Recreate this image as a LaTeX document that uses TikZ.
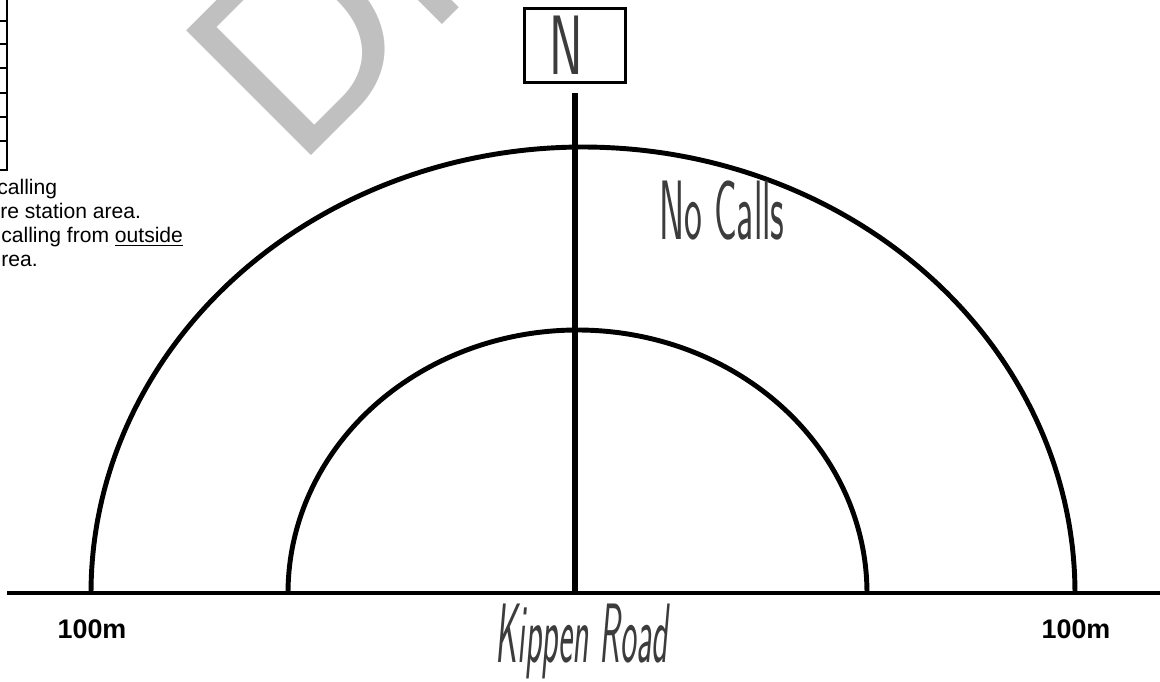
\documentclass[tikz,border=0pt]{standalone}
\usepackage{fontspec}
\setmainfont{Liberation Sans}
\definecolor{wmgray}{RGB}{192,192,192}
\definecolor{inkgray}{RGB}{60,60,60}
\usetikzlibrary{positioning}

\begin{document}
\begin{tikzpicture}[x=0.02cm,y=-0.02cm,
  heavy/.style={line width=2.8pt},
  note/.style={anchor=base west,inner sep=0,font=\fontsize{12}{13}\selectfont},
  dist/.style={anchor=base,inner sep=0,font=\bfseries\fontsize{15.3}{16}\selectfont},
  hand/.style={anchor=base east,inner sep=0,text=inkgray,font=\sffamily\fontsize{48}{48}\selectfont}]
  \useasboundingbox (0,0) rectangle (1160,682);
  \clip (0,0) rectangle (1160,682);
  % watermark
  \node[text=wmgray,rotate=45,anchor=base west,inner sep=0,
    font=\fontsize{146}{146}\selectfont] (draft) at (296,171) {DRAFT};
  % table edge, top left
  \draw[line width=1.2pt] (7,0) -- (7,170) -- (0,170);
  \foreach \y in {21,44,68,93,117,141}
    \draw[line width=0.6pt] (0,\y) -- (7,\y);
  \node[note] (line1) at (-3,195) {calling};
  \node[note] (line2) at (0,219) {re station area.};
  \node[note] (line3) at (1,243) {calling from \underline{outside}};
  \node[note] (line4) at (1,267) {rea.};
  % north marker
  \node[draw,line width=1.7pt,minimum width=57.3pt,minimum height=42pt,inner sep=0,
    font=\sffamily\fontsize{48}{48}\selectfont,text=inkgray] (nbox) at (575,45.5)
    {\hspace*{-10pt}\scalebox{0.6}[1]{N}};
  \coordinate (poletop) at (575,93);
  \coordinate (polefoot) at (575,593);
  \coordinate (roadW) at (7,593);
  \coordinate (roadE) at (1160,593);
  \draw[heavy] (roadW) -- (roadE);
  \draw[line width=3.2pt] (poletop) -- (polefoot);
  % 100m and inner rings
  \draw[heavy] plot[domain=180:360,samples=120,smooth]
    ({583+492*cos(\x)},{593+446*sin(\x)});
  \draw[heavy] plot[domain=180:360,samples=100,smooth]
    ({577.5+289.5*cos(\x)},{593+263*sin(\x)});
  \node[dist] (distW) at (92,638) {100m};
  \node[dist] (distE) at (1076,638) {100m};
  \node[hand] (nocalls) at (785,240) {\scalebox{0.45}[1]{No Calls}};
  \node[hand,font=\sffamily\itshape\fontsize{48}{48}\selectfont] (road) at (668,662)
    {\scalebox{0.4}[1]{Kippen Road}};
\end{tikzpicture}
\end{document}
